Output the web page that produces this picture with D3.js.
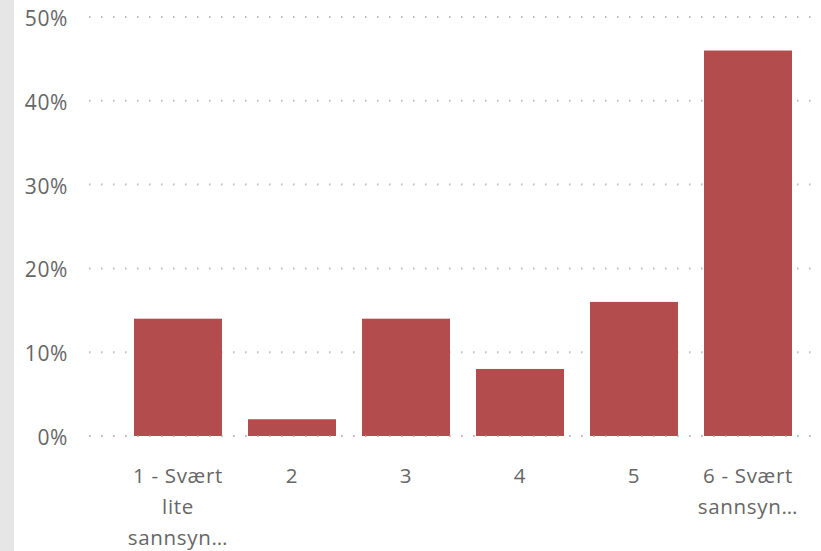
<!DOCTYPE html>
<html>
<head>
<meta charset="utf-8">
<script src="https://cdn.jsdelivr.net/npm/d3@7"></script>
<style>
  body { margin: 0; background: #fff; }
  #chart { width: 821px; height: 551px; }
</style>
</head>
<body>
<div id="chart"></div>
<script>
// data
const categories = ["1 - Svært lite sannsynlig", "2", "3", "4", "5", "6 - Svært sannsynlig"]
const tickLines = [["1 - Svært", "lite", "sannsyn…"], ["2"], ["3"], ["4"], ["5"], ["6 - Svært", "sannsyn…"]]
const shares = [14, 2, 14, 8, 16, 46]
const yTicks = [0, 10, 20, 30, 40, 50]

const width = 821
const height = 551

const svg = d3.select("#chart")
  .append("svg")
  .attr("width", width)
  .attr("height", height)

// light grey strip on the left edge
svg.append("rect")
  .attr("x", 0).attr("y", 0)
  .attr("width", 14).attr("height", height)
  .attr("fill", "#e6e6e6")

const yScale = d3.scaleLinear()
  .domain([0, 50])
  .range([436, 17])

const xScale = d3.scaleBand()
  .domain(categories)
  .range([121, 805])
  .paddingInner(0.228)
  .paddingOuter(0.114)

const font = "'Segoe UI', 'Open Sans', 'Noto Sans', sans-serif"

// dotted gridlines
svg.append("g")
  .selectAll("line")
  .data(yTicks)
  .join("line")
  .attr("x1", 89)
  .attr("x2", width)
  .attr("y1", d => yScale(d))
  .attr("y2", d => yScale(d))
  .attr("stroke", "#bdbdbd")
  .attr("stroke-width", 2)
  .attr("stroke-dasharray", "1.5,10.5")

// y labels
svg.append("g")
  .selectAll("text")
  .data(yTicks)
  .join("text")
  .attr("x", 68)
  .attr("y", d => yScale(d) + 9)
  .attr("text-anchor", "end")
  .attr("font-family", font)
  .attr("font-size", 21)
  .attr("letter-spacing", 0.6)
  .attr("fill", "#666666")
  .text(d => d + "%")

// bars
svg.append("g")
  .selectAll("rect")
  .data(shares)
  .join("rect")
  .attr("x", (d, i) => xScale(categories[i]))
  .attr("y", d => yScale(d))
  .attr("width", xScale.bandwidth())
  .attr("height", d => yScale(0) - yScale(d))
  .attr("fill", "#b34d4d")

// zero line shows faintly over the bar bottoms
svg.append("line")
  .attr("x1", 89)
  .attr("x2", width)
  .attr("y1", yScale(0))
  .attr("y2", yScale(0))
  .attr("stroke", "#e0a0a0")
  .attr("stroke-opacity", 0.6)
  .attr("stroke-width", 2)
  .attr("stroke-dasharray", "1.5,10.5")

// x labels, wrapped like the original
const xl = svg.append("g")
  .selectAll("text")
  .data(categories)
  .join("text")
  .attr("x", d => xScale(d) + xScale.bandwidth() / 2)
  .attr("y", 483)
  .attr("text-anchor", "middle")
  .attr("font-family", font)
  .attr("font-size", 20.5)
  .attr("letter-spacing", 0.7)
  .attr("fill", "#666666")

xl.each(function (d, i) {
  d3.select(this).selectAll("tspan")
    .data(tickLines[i])
    .join("tspan")
    .attr("x", xScale(d) + xScale.bandwidth() / 2)
    .attr("dy", (t, j) => j === 0 ? 0 : 31)
    .text(t => t)
})
</script>
</body>
</html>
